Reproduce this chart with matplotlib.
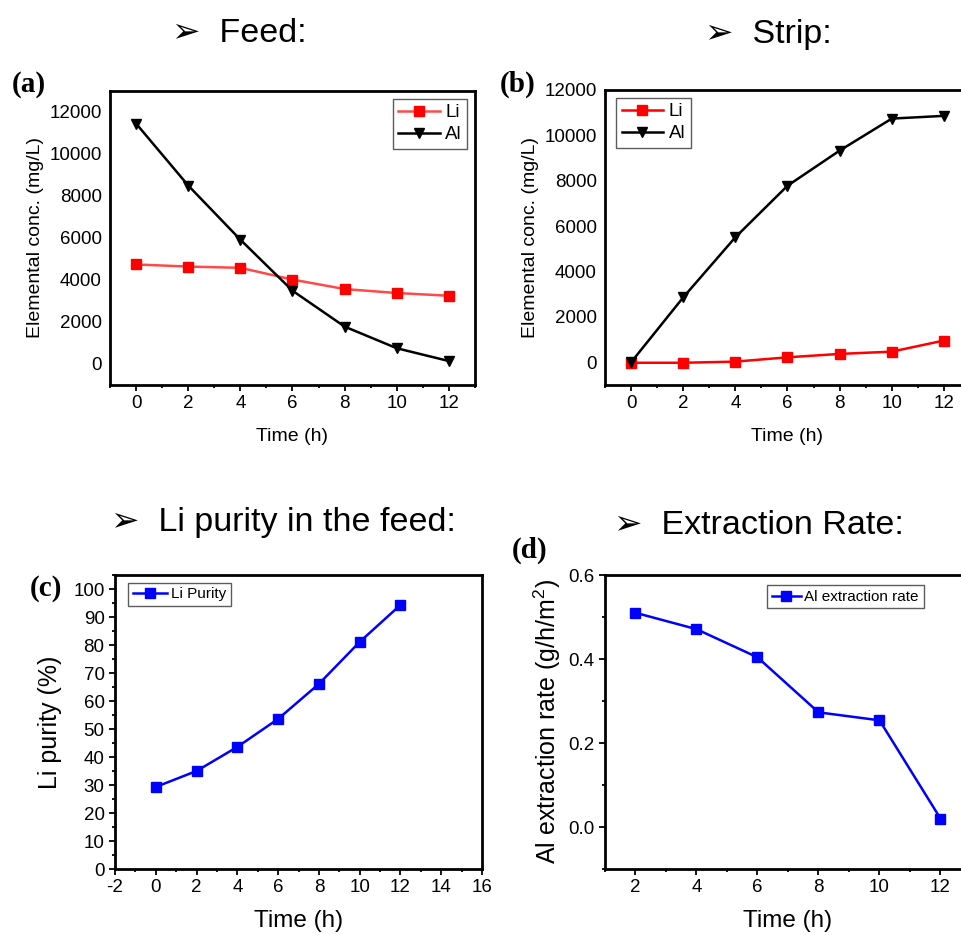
# -*- coding: utf-8 -*-
# Li / Al transport figure: feed, strip, purity and extraction rate
import numpy as np
import matplotlib
matplotlib.use("Agg")
import matplotlib.pyplot as plt
from matplotlib.ticker import MultipleLocator

# data
time_h = [0, 2, 4, 6, 8, 10, 12]
feed_li = [4740, 4640, 4580, 4020, 3570, 3380, 3250]
feed_al = [11450, 8500, 5920, 3490, 1780, 750, 140]
strip_li = [-20, -20, 30, 220, 370, 470, 960]
strip_al = [0, 2860, 5510, 7780, 9330, 10740, 10860]
purity_li = [29.3, 35.0, 43.6, 53.6, 66.1, 81.1, 94.3]
rate_time = [2, 4, 6, 8, 10, 12]
rate_al = [0.510, 0.471, 0.404, 0.273, 0.254, 0.020]

titles = ["➢  Feed:", "➢  Strip:", "➢  Li purity in the feed:", "➢  Extraction Rate:"]

plt.rcParams['font.family'] = ['Liberation Sans', 'DejaVu Sans']
plt.rcParams['axes.linewidth'] = 2.0
plt.rcParams['axes.unicode_minus'] = False
plt.rcParams['mathtext.default'] = 'regular'

W, H = 962, 935
fig = plt.figure(figsize=(W / 100, H / 100), dpi=100)


def box(left, top, right, bottom):
    return [left / W, 1 - bottom / H, (right - left) / W, (bottom - top) / H]


def style_axes(ax, yticks=True):
    ax.tick_params(axis='both', which='both', direction='out', top=False, right=False,
                   labelsize=13.5)
    ax.tick_params(which='major', length=4, width=1.3)
    ax.tick_params(which='minor', length=2.5, width=1.3)
    if not yticks:
        ax.tick_params(axis='y', which='both', length=0, pad=6)


def add_legend(ax, loc, size, anchor=None):
    leg = ax.legend(loc=loc, bbox_to_anchor=anchor, fontsize=size, frameon=True,
                    fancybox=False, edgecolor='#333333', handlelength=2.2,
                    handletextpad=0.3, borderpad=0.3, labelspacing=0.25,
                    borderaxespad=0.4)
    leg.get_frame().set_linewidth(1.0)
    return leg


# (a) feed
ax1 = fig.add_axes(box(110, 91, 475, 385))
ax1.plot(time_h, feed_li, color='#ff4a4a', lw=1.8, marker='s', ms=6.5,
         mfc='#ff0000', mec='#ff0000', label='Li')
ax1.plot(time_h, feed_al, color='black', lw=1.8, marker='v', ms=7.5, label='Al')
ax1.set_xlim(-1, 13)
ax1.set_ylim(-1000, 13000)
ax1.set_yticks(np.arange(0, 12001, 2000))
ax1.xaxis.set_major_locator(MultipleLocator(2))
ax1.xaxis.set_minor_locator(MultipleLocator(1))
ax1.set_xlabel('Time (h)', fontsize=14, labelpad=11)
ax1.set_ylabel('Elemental conc. (mg/L)', fontsize=14)
style_axes(ax1, yticks=False)
add_legend(ax1, 'upper right', 13.5)

# (b) strip
ax2 = fig.add_axes(box(605, 90, 970, 385))
ax2.plot(time_h, strip_li, color='#ff0000', lw=1.8, marker='s', ms=6.5, label='Li')
ax2.plot(time_h, strip_al, color='black', lw=1.8, marker='v', ms=7.5, label='Al')
ax2.set_xlim(-1, 13)
ax2.set_ylim(-1000, 12000)
ax2.set_yticks(np.arange(0, 12001, 2000))
ax2.xaxis.set_major_locator(MultipleLocator(2))
ax2.xaxis.set_minor_locator(MultipleLocator(1))
ax2.set_xlabel('Time (h)', fontsize=14, labelpad=11)
ax2.set_ylabel('Elemental conc. (mg/L)', fontsize=14)
style_axes(ax2, yticks=False)
add_legend(ax2, 'upper left', 13.5, anchor=(0.01, 1.0))

# (c) purity
ax3 = fig.add_axes(box(115, 575, 482, 869))
ax3.plot(time_h, purity_li, color='#0000ff', lw=1.8, marker='s', ms=6.5, label='Li Purity')
ax3.set_xlim(-2, 16)
ax3.set_ylim(0, 105)
ax3.xaxis.set_major_locator(MultipleLocator(2))
ax3.xaxis.set_minor_locator(MultipleLocator(1))
ax3.yaxis.set_major_locator(MultipleLocator(10))
ax3.yaxis.set_minor_locator(MultipleLocator(5))
ax3.set_xlabel('Time (h)', fontsize=17.5, labelpad=10)
ax3.set_ylabel('Li purity (%)', fontsize=18, labelpad=8)
style_axes(ax3)
add_legend(ax3, 'upper left', 11, anchor=(0.02, 0.995))

# (d) extraction rate
ax4 = fig.add_axes(box(605, 575, 971, 869))
ax4.plot(rate_time, rate_al, color='#0000ff', lw=1.8, marker='s', ms=6.5,
         label='Al extraction rate')
ax4.set_xlim(1, 13)
ax4.set_ylim(-0.1, 0.6)
ax4.xaxis.set_major_locator(MultipleLocator(2))
ax4.xaxis.set_minor_locator(MultipleLocator(1))
ax4.yaxis.set_major_locator(MultipleLocator(0.2))
ax4.yaxis.set_minor_locator(MultipleLocator(0.1))
ax4.set_xlabel('Time (h)', fontsize=17.5, labelpad=10)
ax4.set_ylabel('Al extraction rate (g/h/m$^2$)', fontsize=18)
style_axes(ax4)
leg4 = ax4.legend(loc='upper left', bbox_to_anchor=((767 - 605) / 366, 0.965), fontsize=11,
                  frameon=True, fancybox=False, edgecolor='#333333', handlelength=1.9,
                  handletextpad=0.25, borderpad=0.3, borderaxespad=0.0)
leg4.get_frame().set_linewidth(1.0)

# section titles
for txt, (x, y) in zip(titles, [(172, 34), (705, 34), (111, 522), (614, 525)]):
    fig.text(x / W, 1 - y / H, txt, fontsize=24.5, va='center', ha='left',
             family=['Liberation Sans', 'DejaVu Sans'])

# panel letters
for lab, (x, y) in zip(['(a)', '(b)', '(c)', '(d)'],
                       [(12, 84), (500, 84), (30, 588), (512, 550)]):
    fig.text(x / W, 1 - y / H, lab, fontsize=21, fontweight='bold', va='center',
             ha='left', family=['Liberation Serif', 'DejaVu Serif'])

fig.savefig('out.png', dpi=100)
